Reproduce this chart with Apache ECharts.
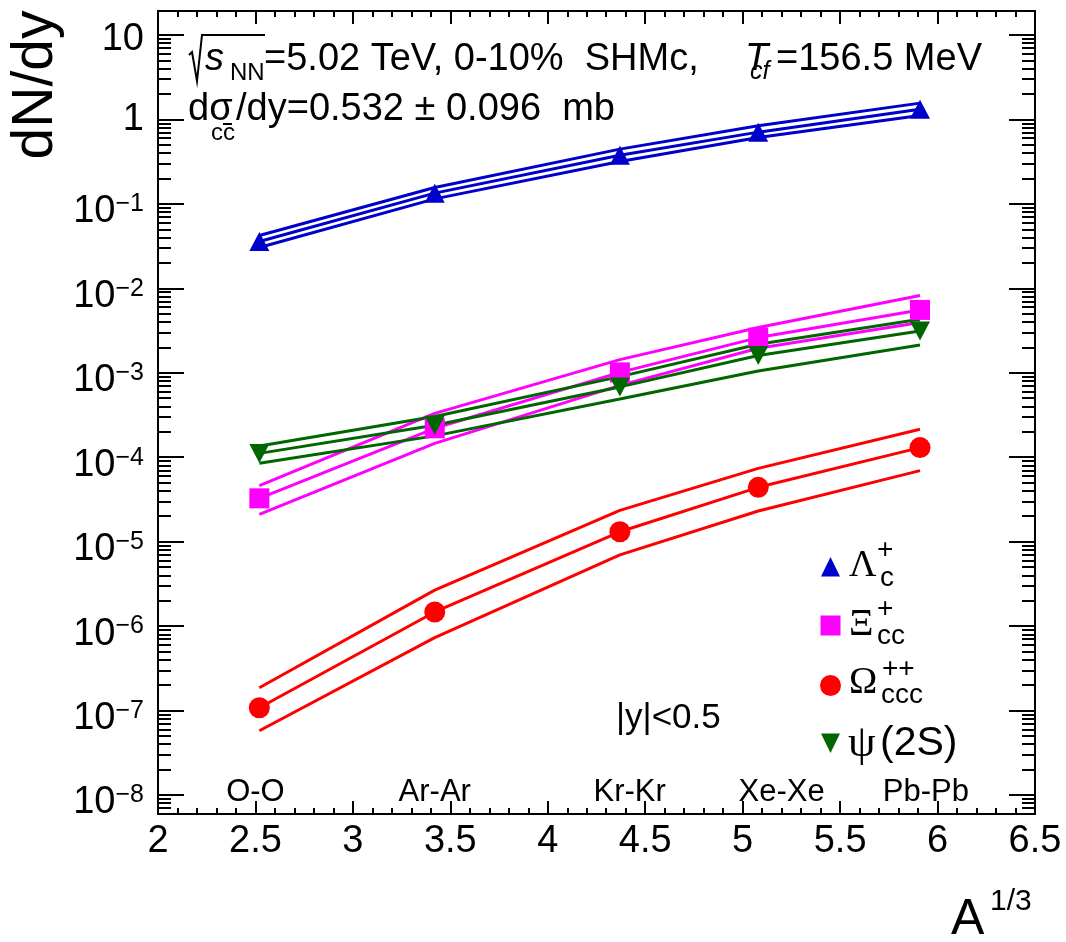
<!DOCTYPE html>
<html><head><meta charset="utf-8">
<script src="https://cdn.jsdelivr.net/npm/echarts@6/dist/echarts.min.js"></script>
<style>html,body{margin:0;padding:0;background:#fff}#c{width:1066px;height:942px}</style>
</head><body><div id="c"></div>
<script>
// ---------- data ----------
const A13 = [2.52, 3.42, 4.37, 5.08, 5.91];              // A^{1/3} of O, Ar, Kr, Xe, Pb
const systems = ['O-O', 'Ar-Ar', 'Kr-Kr', 'Xe-Xe', 'Pb-Pb'];
const systemLabelX = [2.50, 3.42, 4.42, 5.20, 5.94];
const systemLabelY = 1.07e-8;

const lambdaC    = [0.0358, 0.134, 0.377, 0.707, 1.32];
const lambdaCHi  = [0.0422, 0.156, 0.445, 0.84, 1.56];
const lambdaCLo  = [0.0304, 0.1146, 0.318, 0.612, 1.11];

const xiCC       = [3.26e-5, 2.20e-4, 1.01e-3, 2.61e-3, 5.55e-3];
const xiCCHi     = [4.61e-5, 3.31e-4, 1.43e-3, 3.43e-3, 8.22e-3];
const xiCCLo     = [2.11e-5, 1.46e-4, 7.1e-4, 1.95e-3, 3.94e-3];

const omegaCCC   = [1.08e-7, 1.47e-6, 1.31e-5, 4.40e-5, 1.30e-4];
const omegaCCCHi = [1.86e-7, 2.67e-6, 2.35e-5, 7.38e-5, 2.14e-4];
const omegaCCCLo = [5.76e-8, 7.29e-7, 6.98e-6, 2.31e-5, 6.93e-5];

const psi2S      = [1.11e-4, 2.39e-4, 6.8e-4, 1.60e-3, 3.13e-3];
const psi2SHi    = [1.36e-4, 3.03e-4, 9.0e-4, 2.18e-3, 4.30e-3];
const psi2SLo    = [8.5e-5, 1.79e-4, 4.9e-4, 1.05e-3, 2.13e-3];

const xTickLabels = ['2', '2.5', '3', '3.5', '4', '4.5', '5', '5.5', '6', '6.5'];
const yMajorTicks = [1e-8, 1e-7, 1e-6, 1e-5, 1e-4, 1e-3, 1e-2, 1e-1, 1, 10];
const yTickLabels = ['10^-8', '10^-7', '10^-6', '10^-5', '10^-4', '10^-3', '10^-2', '10^-1', '1', '10'];

// ---------- layout / style ----------
const FONT = '"Liberation Sans", Arial, Helvetica, sans-serif';
const SERIF = '"Liberation Serif", "Times New Roman", serif';
const yMin = Math.pow(10, -8.225), yMax = Math.pow(10, 1.284);
const yMinorTicks = [];
for (let n = -9; n <= 1; n++) for (let k = 2; k <= 9; k++) {
  const v = k * Math.pow(10, n);
  if (v > yMin && v < yMax) yMinorTicks.push(v);
}
const C_BLUE = '#0000cc', C_MAG = '#ff00ff', C_RED = '#ff0000', C_GREEN = '#006600';

function yLabel(v) {
  let i = 0, best = 1e9;
  yMajorTicks.forEach((t, j) => { const d = Math.abs(Math.log10(t) - Math.log10(v)); if (d < best) { best = d; i = j; } });
  const s = yTickLabels[i];
  if (s.indexOf('^') < 0) return s === '10' ? '{q|10}' : '{p|' + s + '}';
  const parts = s.split('^');
  return '{b|' + parts[0] + '}{e|' + parts[1].replace('-', '\u2212') + '}';
}

function yAxisCfg(pos, major) {
  return {
    type: 'log', logBase: 10, min: yMin, max: yMax, position: pos,
    axisLine: { show: major, onZero: false, lineStyle: { color: '#000', width: 2 } },
    axisTick: { show: true, inside: true, length: major ? 26 : 13,
      customValues: major ? yMajorTicks : yMinorTicks, lineStyle: { color: '#000', width: 2 } },
    axisLabel: (major && pos === 'left') ? {
      show: true, customValues: yMajorTicks, margin: 14, color: '#000', fontFamily: FONT, fontSize: 38,
      formatter: yLabel,
      rich: {
        b: { fontSize: 38, lineHeight: 38, padding: [16, 0, 0, 0], fontFamily: FONT, color: '#000' },
        e: { fontSize: 25, lineHeight: 25, padding: [1, 0, 0, 0], fontFamily: FONT, color: '#000' },
        p: { fontSize: 38, lineHeight: 38, fontFamily: FONT, color: '#000' },
        q: { fontSize: 38, lineHeight: 38, padding: [9, 0, 0, 0], fontFamily: FONT, color: '#000' }
      }
    } : { show: false },
    splitLine: { show: false }, minorTick: { show: false }, minorSplitLine: { show: false }
  };
}
function xAxisCfg(pos) {
  return {
    type: 'value', min: 2, max: 6.5, interval: 0.5, position: pos,
    axisLine: { show: true, onZero: false, lineStyle: { color: '#000', width: 2 } },
    axisTick: { show: true, inside: true, length: 13, lineStyle: { color: '#000', width: 2 } },
    minorTick: { show: true, splitNumber: 5, length: 6, lineStyle: { color: '#000', width: 2 } },
    splitLine: { show: false }, minorSplitLine: { show: false },
    axisLabel: pos === 'bottom' ? {
      show: true, fontSize: 38, fontFamily: FONT, color: '#000', margin: 9,
      showMinLabel: true, showMaxLabel: true,
      formatter: (v) => xTickLabels[Math.round((v - 2) / 0.5)]
    } : { show: false }
  };
}

function pts(vals) { return A13.map((x, i) => [x, vals[i]]); }
function lineS(vals, color) {
  return { type: 'line', data: pts(vals), symbol: 'none', showSymbol: false, silent: true, z: 2,
    lineStyle: { color: color, width: 3 }, animation: false };
}
function markS(name, vals, color, symbol, size, rot) {
  return { type: 'scatter', name: name, data: pts(vals), symbol: symbol, symbolSize: size,
    symbolRotate: rot || 0, itemStyle: { color: color, opacity: 1 }, z: 3, silent: true, animation: false };
}

function T(text, x, y, size, extra) {
  return Object.assign({ type: 'text', x: x, y: y, silent: true, z: 100,
    style: Object.assign({ text: text, fontSize: size, fontFamily: FONT, fill: '#000',
      align: 'left', verticalAlign: 'middle', textAlign: 'left', textVerticalAlign: 'middle' }, extra || {}) });
}

const yTitle = T('dN/dy', 36, 85, 57, { align: 'center', textAlign: 'center' });
yTitle.rotation = Math.PI / 2;

const graphics = [
  // header line 1
  { type: 'polyline', silent: true, z: 100, shape: { points: [[189, 55], [192, 52], [197, 81], [202, 35], [265, 35]] },
    style: { stroke: '#000', lineWidth: 2, fill: null } },
  T('s', 205, 59.5, 38, { fontStyle: 'italic' }),
  T('NN', 230, 73.5, 24),
  T('=5.02 TeV, 0-10%  SHMc,', 264, 59.5, 38),
  T('T', 745, 59.5, 38, { fontStyle: 'italic' }),
  T('cf', 750, 72, 25, { fontStyle: 'italic' }),
  T('=156.5 MeV', 776, 59.5, 38),
  // header line 2
  T('d\u03c3', 188, 110, 38),
  T('cc', 211, 133, 24),
  { type: 'line', silent: true, z: 100, shape: { x1: 223, y1: 124, x2: 232, y2: 124 }, style: { stroke: '#000', lineWidth: 2 } },
  T('/dy=0.532 \u00b1 0.096  mb', 236, 110, 38),
  // rapidity
  T('|y|<0.5', 616, 718, 35),
  // axis titles
  yTitle,
  T('A', 951, 920, 50),
  T('1/3', 990, 902, 30),
  // legend
  { type: 'polygon', silent: true, z: 100, shape: { points: [[821, 576.5], [840, 576.5], [830.5, 557]] }, style: { fill: C_BLUE } },
  T('\u039b', 849, 566, 38, { fontFamily: SERIF }),
  T('+', 877, 550, 28), T('c', 880, 578, 28),
  { type: 'rect', silent: true, z: 100, shape: { x: 820.5, y: 615.5, width: 20, height: 20 }, style: { fill: C_MAG } },
  T('\u039e', 849, 625, 38, { fontFamily: SERIF }),
  T('+', 877, 609, 28), T('cc', 877, 636, 28),
  { type: 'circle', silent: true, z: 100, shape: { cx: 830.5, cy: 685.5, r: 10.5 }, style: { fill: C_RED } },
  T('\u03a9', 849, 683, 38, { fontFamily: SERIF }),
  T('++', 882, 669, 28), T('ccc', 881, 695, 28),
  { type: 'polygon', silent: true, z: 100, shape: { points: [[821, 733.5], [840, 733.5], [830.5, 753]] }, style: { fill: C_GREEN } },
  T('\u03c8', 848, 744, 44, { fontFamily: SERIF }),
  T('(2S)', 880, 744, 41)
];

const option = {
  backgroundColor: '#fff',
  animation: false,
  grid: { left: 158, top: 11, width: 877, height: 803, show: true, borderColor: '#000', borderWidth: 2, backgroundColor: 'transparent' },
  xAxis: [xAxisCfg('bottom'), xAxisCfg('top')],
  yAxis: [yAxisCfg('left', true), yAxisCfg('left', false), yAxisCfg('right', true), yAxisCfg('right', false)],
  series: [
    lineS(lambdaCHi, C_BLUE), lineS(lambdaC, C_BLUE), lineS(lambdaCLo, C_BLUE),
    lineS(xiCCHi, C_MAG), lineS(xiCC, C_MAG), lineS(xiCCLo, C_MAG),
    lineS(omegaCCCHi, C_RED), lineS(omegaCCC, C_RED), lineS(omegaCCCLo, C_RED),
    lineS(psi2SHi, C_GREEN), lineS(psi2S, C_GREEN), lineS(psi2SLo, C_GREEN),
    markS('\u039bc+', lambdaC, C_BLUE, 'triangle', [20, 19]),
    markS('\u039ecc+', xiCC, C_MAG, 'rect', 20),
    markS('\u03a9ccc++', omegaCCC, C_RED, 'circle', 21),
    markS('\u03c8(2S)', psi2S, C_GREEN, 'triangle', [20, 19], 180),
    { type: 'scatter', silent: true, z: 4, symbol: 'circle', symbolSize: 1,
      itemStyle: { color: 'rgba(0,0,0,0)' },
      data: systems.map((n, i) => ({ name: n, value: [systemLabelX[i], systemLabelY] })),
      label: { show: true, position: 'inside', formatter: '{b}', fontSize: 31, fontFamily: FONT,
        color: '#000', opacity: 1, textBorderWidth: 0, textBorderColor: 'transparent', textShadowBlur: 0 } }
  ],
  graphic: graphics
};
const chart = echarts.init(document.getElementById('c'), null, { renderer: 'canvas' });
chart.setOption(option);
</script></body></html>
